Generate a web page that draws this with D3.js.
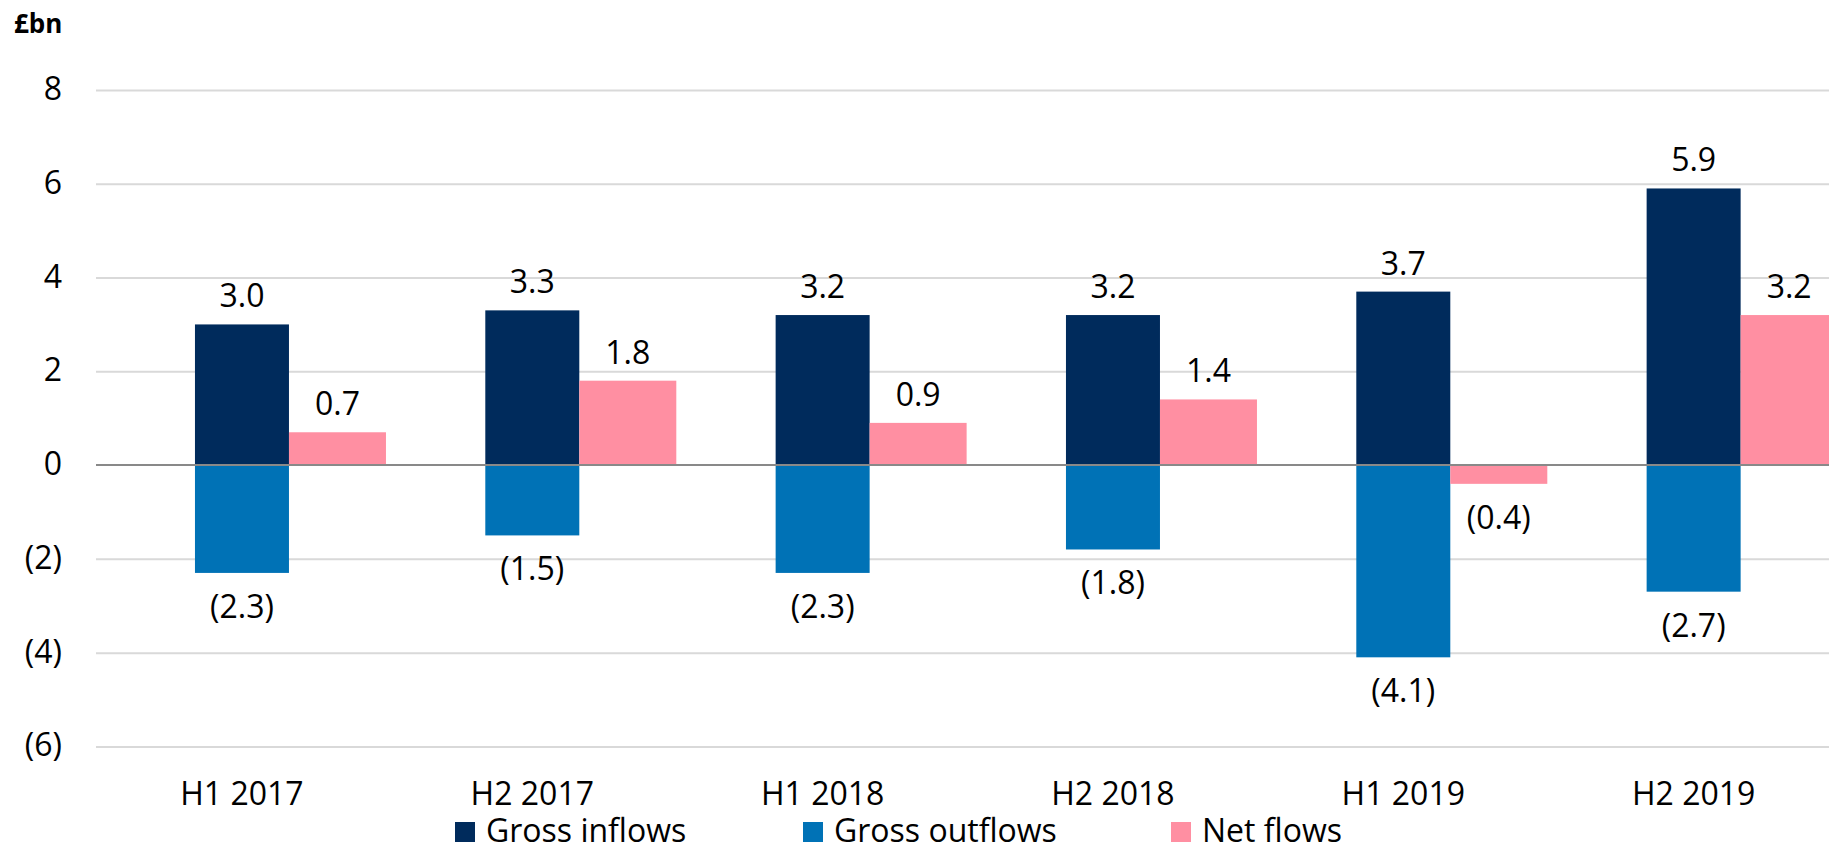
<!DOCTYPE html>
<html>
  <head>
    <meta charset="utf-8">
    <style>
      body { margin: 0; background: #fff; }
      svg { display: block; font-family: "Open Sans", sans-serif; }
      .grid line { stroke: #d9d9d9; stroke-width: 2px; }
      .grid path { display: none; }
      .yaxis path, .yaxis line, .xaxis path, .xaxis line { display: none; }
      .yaxis text, .xaxis text { font-size: 32px; fill: #000; font-family: "Open Sans", sans-serif; }
      .label { font-size: 32px; fill: #000; }
      .legend text { font-size: 32px; fill: #000; }
    </style>
  </head>
  <body>
    <svg width="1829" height="846"></svg>
    <script src="https://cdn.jsdelivr.net/npm/d3@7"></script>
    <script>
      var categories = ["H1 2017", "H2 2017", "H1 2018", "H2 2018", "H1 2019", "H2 2019"];
      var grossInflows = [3.0, 3.3, 3.2, 3.2, 3.7, 5.9];
      var grossOutflows = [-2.3, -1.5, -2.3, -1.8, -4.1, -2.7];
      var netFlows = [0.7, 1.8, 0.9, 1.4, -0.4, 3.2];
      var yTicks = [-6, -4, -2, 0, 2, 4, 6, 8];
      var seriesNames = ["Gross inflows", "Gross outflows", "Net flows"];
      var colors = ["#002b5c", "#0072b6", "#ff8fa2"];

      var svg = d3.select("svg");

      var x = d3.scaleBand()
        .domain(categories)
        .range([96.8, 1838.8]);

      var y = d3.scaleLinear()
        .domain([-6, 8])
        .range([746.4, 90]);

      var barW = 94, netW = 97;

      function fmt(v) {
        var s = d3.format(".1f")(Math.abs(v));
        return v < 0 ? "(" + s + ")" : s;
      }

      // gridlines
      svg.append("g")
          .attr("class", "grid")
          .attr("transform", "translate(96,0)")
        .call(d3.axisLeft(y).tickValues(yTicks).tickSize(-1760).tickFormat(""))
        .selectAll("line")
          .filter(function(d) { return d === 0; })
          .remove();

      // y axis labels
      var yAxis = svg.append("g")
          .attr("class", "yaxis")
          .attr("transform", "translate(62,0)")
        .call(d3.axisLeft(y).tickValues(yTicks).tickSize(0).tickPadding(0)
          .tickFormat(function(d) { return d < 0 ? "(" + (-d) + ")" : d; }));
      yAxis.selectAll("text").attr("dy", null).attr("y", 9.5);

      svg.append("text")
        .attr("x", 14)
        .attr("y", 33)
        .style("font-size", "26px")
        .style("font-weight", "bold")
        .text("£bn");

      var data = categories.map(function(c, i) {
        return { cat: c, inflow: grossInflows[i], outflow: grossOutflows[i], net: netFlows[i] };
      });

      var bars = svg.append("g");

      function center(d) { return x(d.cat) + x.bandwidth() / 2; }

      bars.selectAll(".inflow")
        .data(data)
        .enter().append("rect")
          .attr("x", function(d) { return center(d) - barW / 2; })
          .attr("y", function(d) { return y(d.inflow); })
          .attr("width", barW)
          .attr("height", function(d) { return y(0) - y(d.inflow); })
          .attr("fill", colors[0]);

      bars.selectAll(".outflow")
        .data(data)
        .enter().append("rect")
          .attr("x", function(d) { return center(d) - barW / 2; })
          .attr("y", y(0))
          .attr("width", barW)
          .attr("height", function(d) { return y(d.outflow) - y(0); })
          .attr("fill", colors[1]);

      bars.selectAll(".net")
        .data(data)
        .enter().append("rect")
          .attr("x", function(d) { return center(d) + barW / 2; })
          .attr("y", function(d) { return y(Math.max(0, d.net)); })
          .attr("width", netW)
          .attr("height", function(d) { return Math.abs(y(d.net) - y(0)); })
          .attr("fill", colors[2]);

      // zero line
      svg.append("line")
        .attr("x1", 96).attr("x2", 1829)
        .attr("y1", y(0)).attr("y2", y(0))
        .attr("stroke", "#898989")
        .attr("stroke-width", 2);

      // value labels
      function addLabels(key, offset) {
        svg.append("g").selectAll("text")
          .data(data)
          .enter().append("text")
            .attr("class", "label")
            .attr("text-anchor", "middle")
            .attr("x", function(d) { return center(d) + offset; })
            .attr("y", function(d) {
              var v = d[key];
              return v >= 0 ? y(v) - 17 : y(v) + 45;
            })
            .text(function(d) { return fmt(d[key]); });
      }
      addLabels("inflow", 0);
      addLabels("outflow", 0);
      addLabels("net", barW / 2 + netW / 2);

      // x axis labels
      var xAxis = svg.append("g")
          .attr("class", "xaxis")
          .attr("transform", "translate(0,0)")
        .call(d3.axisBottom(x).tickSize(0).tickPadding(0));
      xAxis.selectAll("text").attr("dy", null).attr("y", 805);

      // legend
      var legendX = [455, 803, 1171];
      var legend = svg.append("g").attr("class", "legend");
      seriesNames.forEach(function(name, i) {
        legend.append("rect")
          .attr("x", legendX[i])
          .attr("y", 822)
          .attr("width", 20)
          .attr("height", 20)
          .attr("fill", colors[i]);
        legend.append("text")
          .attr("x", legendX[i] + 31)
          .attr("y", 842)
          .text(name);
      });
    </script>
  </body>
</html>
